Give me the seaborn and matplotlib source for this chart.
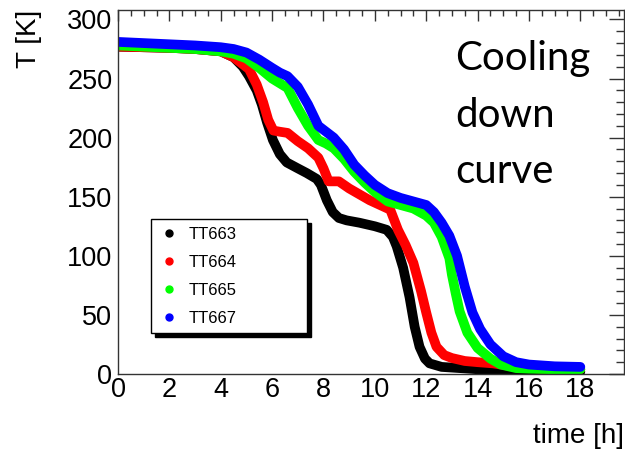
import numpy as np
import pandas as pd
import seaborn as sns
import matplotlib.pyplot as plt
from matplotlib.lines import Line2D
from matplotlib.ticker import MultipleLocator

t_663 = [0, 1, 2, 3, 4, 4.5, 4.86, 5.1, 5.4, 5.6, 5.8, 6.03, 6.3, 6.57, 7.0, 7.35, 7.74, 7.9,
         8.13, 8.36, 8.6, 8.9, 9.4, 10.0, 10.46, 10.7, 10.85, 11.1, 11.35, 11.55, 11.74, 11.95,
         12.13, 12.6, 13.3, 14.0, 15.0, 16.0, 18.0]
T_663 = [277, 276.5, 276, 275, 273, 268, 260, 252, 240, 228, 213, 198, 186, 179, 174, 170, 165, 160,
         147, 137, 132, 130, 128, 125, 122, 116, 108, 90, 65, 40, 23, 13,
         9, 6, 5, 4, 3, 2.5, 2]

t_664 = [0, 1, 2, 3, 4, 4.5, 4.8, 5.1, 5.4, 5.65, 5.85, 6.05, 6.3, 6.6, 7.0, 7.4, 7.8, 8.0, 8.2,
         8.6, 9.0, 9.4, 9.8, 10.2, 10.6, 10.9, 11.2, 11.5, 11.8, 12.0, 12.2, 12.4, 12.7, 13.0,
         13.5, 14.0, 14.6, 15.5, 16.5, 18.0]
T_664 = [277, 276.5, 276, 275, 273, 268, 263, 258, 245, 230, 215, 206, 205, 204, 197, 191, 183, 174, 163,
         163, 157, 152, 147, 143, 139, 122, 109, 94, 70, 52, 35, 23, 16, 13.5,
         11, 10, 9, 6, 4.5, 4]

t_665 = [0, 1, 2, 3, 4, 4.5, 5, 5.5, 6, 6.3, 6.6, 7.0, 7.4, 7.8, 8.1, 8.4, 8.8, 9.2, 9.6, 10.0,
         10.5, 11.0, 11.5, 12.0, 12.3, 12.6, 12.9, 13.0, 13.15, 13.3, 13.6, 14.0, 14.5, 14.9,
         15.5, 16.0, 17.0, 18.0]
T_665 = [278, 277, 276, 275, 273, 271, 267, 259, 250, 246, 242, 225, 210, 198, 195, 191, 182, 171, 162, 154,
         146, 143, 140, 134, 128, 116, 98, 84, 68, 53, 35, 22, 13, 8,
         5, 4.5, 4, 4]

t_667 = [0, 1, 2, 3, 4, 4.5, 5, 5.5, 6, 6.3, 6.6, 7.0, 7.4, 7.8, 8.1, 8.4, 8.8, 9.2, 9.6, 10.0,
         10.5, 11.0, 11.5, 12.0, 12.3, 12.6, 12.9, 13.2, 13.5, 13.8, 14.1, 14.5, 15.0, 15.5,
         16.0, 17.0, 18.0]
T_667 = [281, 280, 279, 278, 276.5, 275, 272, 266, 259, 255, 252, 243, 228, 210, 205, 200, 190, 177, 168, 160,
         153, 149, 146, 143, 137, 128, 117, 100, 74, 52, 38, 25, 15, 10,
         8, 6.5, 6]

sensors = ["TT663", "TT664", "TT665", "TT667"]
colors = ["#000000", "#ff0000", "#00ff00", "#0000ff"]

frames = []
for name, t, T in zip(sensors, [t_663, t_664, t_665, t_667], [T_663, T_664, T_665, T_667]):
    frames.append(pd.DataFrame({"time": t, "T": T, "sensor": name}))
df = pd.concat(frames, ignore_index=True)

sns.set_style("white")
plt.rcParams["font.family"] = ["Liberation Sans", "DejaVu Sans"]
plt.rcParams["text.color"] = "black"
plt.rcParams["axes.labelcolor"] = "black"
plt.rcParams["xtick.color"] = "black"
plt.rcParams["ytick.color"] = "black"

fig = plt.figure(figsize=(6.25, 4.55), dpi=100)
ax = fig.add_axes([118 / 625, 1 - 374 / 455, 506 / 625, 364 / 455])

sns.lineplot(data=df, x="time", y="T", hue="sensor", hue_order=sensors,
             palette=colors, estimator=None, sort=False, linewidth=7,
             legend=False, ax=ax, solid_joinstyle="round", solid_capstyle="round")

ax.set_xlim(0, 19.7)
ax.set_ylim(0, 308)
ax.xaxis.set_major_locator(MultipleLocator(2))
ax.xaxis.set_minor_locator(MultipleLocator(0.5))
ax.yaxis.set_major_locator(MultipleLocator(50))
ax.yaxis.set_minor_locator(MultipleLocator(10))
ax.tick_params(axis="both", which="both", direction="in", top=True, right=True,
               color="#333333", labelcolor="black")
ax.tick_params(axis="y", which="major", length=11, width=1, labelsize=19.5, pad=4)
ax.tick_params(axis="y", which="minor", length=6, width=1)
ax.tick_params(axis="x", which="major", length=8, width=1, labelsize=19.5, pad=2)
ax.tick_params(axis="x", which="minor", length=4.5, width=1)
for sp in ax.spines.values():
    sp.set_color("#333333")
    sp.set_linewidth(1)

ax.set_xlabel("time [h]", fontsize=20, loc="right", color="black")
ax.xaxis.set_label_coords(1.0, -0.135)
ax.set_ylabel("T [K]", fontsize=20, loc="top", color="black")
ax.yaxis.set_label_coords(-0.15, 1.0)

handles = [Line2D([], [], color=c, marker="o", linestyle="none", markersize=5) for c in colors]
leg = ax.legend(handles, sensors, loc="upper left",
                bbox_to_anchor=((151 - 118) / 506, (374 - 223) / 364, 156 / 506, 0.01),
                mode="expand", fontsize=12, frameon=True, fancybox=False, framealpha=1,
                edgecolor="black", borderpad=0.45, labelspacing=0.78, handlelength=1.2,
                handletextpad=0.6, borderaxespad=0,
                shadow={"ox": 2.8, "oy": -2.8, "facecolor": "black", "edgecolor": "black", "alpha": 1})
for txt in leg.get_texts():
    txt.set_color("black")

for label, ypx in [("Cooling", 70), ("down", 127), ("curve", 183)]:
    fig.text(455 / 625, 1 - ypx / 455, label, fontsize=29, family="Lato",
             va="baseline", color="black")

fig.savefig("out.png", dpi=100)
